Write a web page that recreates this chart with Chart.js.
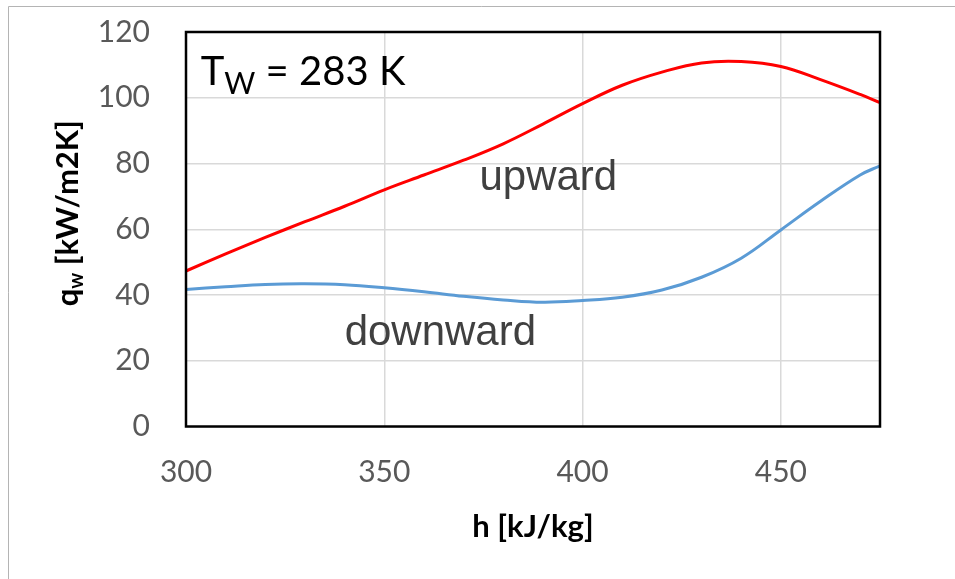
<!DOCTYPE html>
<html>
<head>
<meta charset="utf-8">
<script src="https://cdn.jsdelivr.net/npm/chart.js@4.4.1/dist/chart.umd.min.js"></script>
<style>
  html, body { margin: 0; padding: 0; background: #fff; }
</style>
</head>
<body>
<canvas id="hwChart" width="955" height="579"></canvas>
<script>
// enthalpy h [kJ/kg] and heat transfer coefficient q_w [kW/m2K]
const enthalpy = [300, 310, 320, 330, 340, 350, 360, 370, 380, 390, 400, 410, 420, 430, 440, 450, 460, 470, 475];
const upward   = [47.3, 52.5, 57.5, 62.3, 67.0, 72.0, 76.5, 81.0, 86.0, 92.0, 98.2, 103.8, 107.8, 110.6, 111.0, 109.5, 105.5, 101.0, 98.5];
const downward = [41.7, 42.5, 43.2, 43.4, 43.1, 42.2, 41.0, 39.6, 38.5, 37.8, 38.3, 39.3, 41.5, 45.4, 51.2, 59.8, 68.5, 76.5, 79.3];

const hTicks = [300, 350, 400, 450];
const qTicks = [0, 20, 40, 60, 80, 100, 120];

// text labels placed in data coordinates
const labels = [
    { text: "upward",   h: 374.0, q: 72.0 },
    { text: "downward", h: 340.0, q: 24.8 }
];
const wallTemp = { h: 303.7, q: 104.0, value: "283 K" };

const toPoints = ys => enthalpy.map((h, i) => ({ x: h, y: ys[i] }));

const framePlugin = {
    id: "frame",
    beforeDraw(chart) {
        const { ctx, width, height } = chart;
        ctx.save();
        ctx.fillStyle = "#fff";
        ctx.fillRect(0, 0, width, height);
        ctx.strokeStyle = "#b4b4b4";
        ctx.lineWidth = 1;
        ctx.beginPath();
        ctx.moveTo(8.5, height);
        ctx.lineTo(8.5, 6.5);
        ctx.lineTo(width, 6.5);
        ctx.stroke();
        ctx.restore();
    },
    afterDraw(chart) {
        const { ctx, chartArea: a, scales } = chart;
        ctx.save();
        ctx.strokeStyle = "#000";
        ctx.lineWidth = 2.5;
        ctx.strokeRect(a.left, a.top, a.right - a.left, a.bottom - a.top);

        ctx.fillStyle = "#404040";
        ctx.textBaseline = "alphabetic";
        ctx.textAlign = "left";
        ctx.font = "42px 'Liberation Sans', Arial, sans-serif";
        labels.forEach(l => {
            ctx.fillText(l.text, scales.x.getPixelForValue(l.h), scales.y.getPixelForValue(l.q));
        });

        // T_W = 283 K
        let x = scales.x.getPixelForValue(wallTemp.h);
        const y = scales.y.getPixelForValue(wallTemp.q);
        ctx.fillStyle = "#000";
        ctx.font = "40px Lato, sans-serif";
        ctx.fillText("T", x, y);
        x += ctx.measureText("T").width;
        ctx.font = "30px Lato, sans-serif";
        ctx.fillText("W", x, y + 9);
        x += ctx.measureText("W").width;
        ctx.font = "40px Lato, sans-serif";
        ctx.fillText(" = " + wallTemp.value, x, y);

        // y axis title with subscript w
        const big = "bold 31px Lato, sans-serif";
        const small = "bold 20px Lato, sans-serif";
        ctx.font = big;
        const wq = ctx.measureText("q").width;
        const wr = ctx.measureText(" [kW/m2K]").width;
        ctx.font = small;
        const ws = ctx.measureText("w").width;
        const total = wq + ws + wr;
        ctx.translate(78, (a.top + a.bottom) / 2 - 16);
        ctx.rotate(-Math.PI / 2);
        let tx = -total / 2;
        ctx.font = big;
        ctx.fillText("q", tx, 0);
        tx += wq;
        ctx.font = small;
        ctx.fillText("w", tx, 5);
        tx += ws;
        ctx.font = big;
        ctx.fillText(" [kW/m2K]", tx, 0);
        ctx.restore();
    }
};

new Chart(document.getElementById("hwChart"), {
    type: "line",
    data: {
        datasets: [
            {
                label: "upward",
                data: toPoints(upward),
                borderColor: "#ff0000",
                borderWidth: 3,
                pointRadius: 0,
                tension: 0.4
            },
            {
                label: "downward",
                data: toPoints(downward),
                borderColor: "#5b9bd5",
                borderWidth: 3,
                pointRadius: 0,
                tension: 0.4
            }
        ]
    },
    options: {
        responsive: false,
        animation: false,
        layout: { padding: { top: 32, right: 75, bottom: 0, left: 0 } },
        plugins: {
            legend: { display: false },
            tooltip: { enabled: false }
        },
        scales: {
            x: {
                type: "linear",
                min: 300,
                max: 475,
                afterBuildTicks: s => { s.ticks = hTicks.map(v => ({ value: v })); },
                afterFit: s => { s.height = 152.5; },
                grid: { color: "#d9d9d9", lineWidth: 1.5, drawTicks: false },
                border: { display: false },
                ticks: {
                    padding: 28,
                    color: "#595959",
                    font: { family: "Lato", size: 30 },
                    maxRotation: 0
                },
                title: {
                    display: true,
                    text: "h [kJ/kg]",
                    color: "#000",
                    font: { family: "Lato", size: 31, weight: "bold" },
                    padding: { top: 0, bottom: 33 }
                }
            },
            y: {
                min: 0,
                max: 120,
                afterBuildTicks: s => { s.ticks = qTicks.map(v => ({ value: v })); },
                afterFit: s => {
                    s.width = 186;
                    s.paddingTop = 0;
                    s.paddingBottom = 0;
                },
                grid: { color: "#d9d9d9", lineWidth: 1.5, drawTicks: false },
                border: { display: false },
                ticks: {
                    padding: 36,
                    color: "#595959",
                    font: { family: "Lato", size: 30 }
                }
            }
        }
    },
    plugins: [framePlugin]
});
</script>
</body>
</html>
